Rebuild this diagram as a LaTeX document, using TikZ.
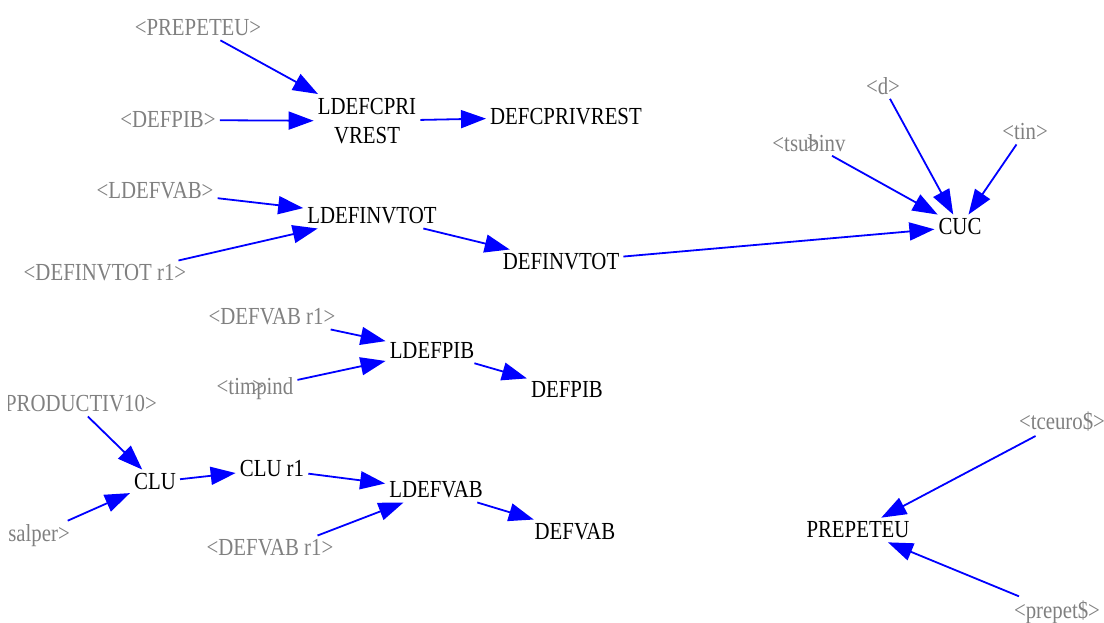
\documentclass[tikz,border=0pt]{standalone}
\usepackage{fontspec}
\setmainfont{Liberation Serif}[FakeStretch=0.85]
\usetikzlibrary{arrows.meta}
\begin{document}
\begin{tikzpicture}[x=1pt,y=-1pt,
    var/.style={font=\fontsize{24.5}{29}\selectfont, inner sep=4pt, align=center},
    shadow/.style={var, text=gray},
    link/.style={draw=blue, line width=1.8pt,
      -{Triangle[length=25pt,width=18pt]}}]
  \useasboundingbox (0,0) rectangle (1104,623);
  \clip (8,0) rectangle (1104,623);
  % top group
  \node[shadow] (prepShadow) at (198,28) {<PREPETEU>};
  \node[shadow] (pibShadow) at (168,120) {<DEFPIB>};
  \node[var] (ldefcpri) at (367,121) {LDEFCPRI\\VREST};
  \node[var] (defcpriv) at (566,117) {DEFCPRIVREST};
  \draw[link] (prepShadow) -- (ldefcpri);
  \draw[link] (pibShadow) -- (ldefcpri);
  \draw[link] (ldefcpri) -- (defcpriv);
  % investment
  \node[shadow] (vabShadow) at (155,191) {<LDEFVAB>};
  \node[shadow] (invShadow) at (105,273) {<DEFINVTOT r1>};
  \node[var] (ldefinv) at (372,216) {LDEFINVTOT};
  \node[var] (definv) at (561,262) {DEFINVTOT};
  \draw[link] (vabShadow) -- (ldefinv);
  \draw[link] ([xshift=-12pt]invShadow.north east) -- (ldefinv);
  \draw[link] (ldefinv) -- (definv);
  % CUC
  \node[shadow] (dShadow) at (883,86) {<d>};
  \node[shadow] (tsubShadow) at (809,143) {<tsu\rlap{\kern-2pt>}binv};
  \node[shadow] (tinShadow) at (1025,132) {<tin>};
  \node[var] (cuc) at (960,227) {CUC};
  \draw[link] (definv) -- (cuc);
  \draw[link] (tsubShadow) -- (cuc);
  \draw[link] (dShadow) -- (cuc);
  \draw[link] (tinShadow) -- (cuc);
  % PIB
  \node[shadow] (vabrShadowA) at (272,317) {<DEFVAB r1>};
  \node[shadow] (timpShadow) at (255,389) {<tim\rlap{\kern-4pt>}pind};
  \node[var] (ldefpib) at (432,351) {LDEFPIB};
  \node[var] (defpib) at (567,390) {DEFPIB};
  \draw[link] (vabrShadowA) -- (ldefpib);
  \draw[link] (timpShadow) -- (ldefpib);
  \draw[link] (ldefpib) -- (defpib);
  % VAB
  \node[shadow, anchor=east] (prodShadow) at (161,404) {<PRODUCTIV10>};
  \node[shadow, anchor=east] (salShadow) at (74,536) {<salper>};
  \node[var] (clu) at (155,482) {CLU};
  \node[var] (clur) at (272,469) {CLU r1};
  \node[shadow] (vabrShadowB) at (270,548) {<DEFVAB r1>};
  \node[var] (ldefvab) at (436,490) {LDEFVAB};
  \node[var] (defvab) at (575,532) {DEFVAB};
  \draw[link] (prodShadow) -- (clu);
  \draw[link] (salShadow) -- (clu);
  \draw[link] (clu) -- (clur);
  \draw[link] (clur) -- (ldefvab);
  \draw[link] ([xshift=-20pt]vabrShadowB.north east) -- (ldefvab);
  \draw[link] (ldefvab) -- (defvab);
  % PREPETEU
  \node[shadow] (tceuroShadow) at (1062,422) {<tceuro\$>};
  \node[shadow] (prepetShadow) at (1057,612) {<prepet\$>};
  \node[var] (prepeteu) at (858,530) {PREPETEU};
  \draw[link] (tceuroShadow) -- (prepeteu);
  \draw[link] (prepetShadow) -- (prepeteu);
\end{tikzpicture}
\end{document}
